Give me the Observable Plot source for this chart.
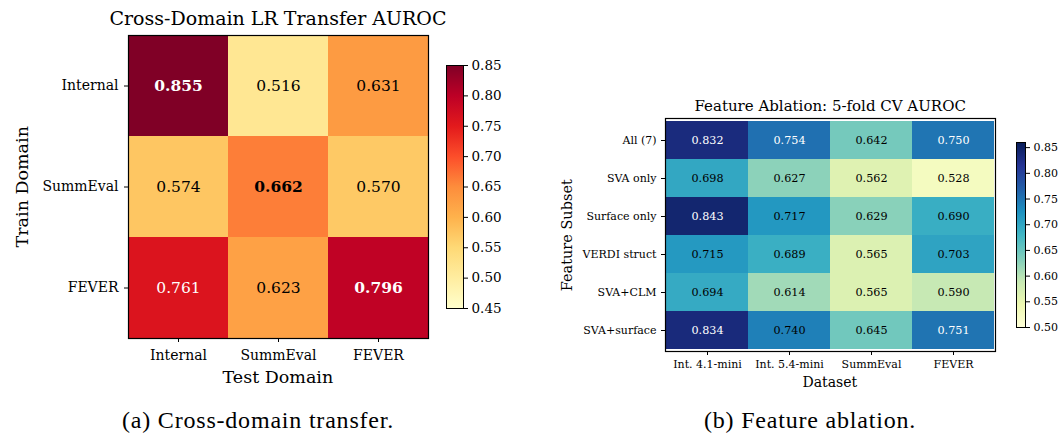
<!DOCTYPE html>
<html>
<head>
<meta charset="utf-8">
<script src="https://cdn.jsdelivr.net/npm/d3@7"></script>
<script src="https://cdn.jsdelivr.net/npm/@observablehq/plot@0.6"></script>
<style>
  html, body { margin: 0; padding: 0; background: #fff; }
  body { width: 1063px; height: 434px; position: relative; overflow: hidden; font-family: "DejaVu Serif", serif; }
  svg, svg text { font-family: "DejaVu Serif", serif !important; }
  .t { position: absolute; white-space: nowrap; color: #000; line-height: 1; font-family: "DejaVu Serif", serif; }
  .t.cap { font-family: "Liberation Serif", serif; font-size: 24px; letter-spacing: 0.8px; }
</style>
</head>
<body>
<script>
// ---------- Data ----------
const trainDomains = ["Internal", "SummEval", "FEVER"];
const testDomains = ["Internal", "SummEval", "FEVER"];
const transferInternal = [0.855, 0.516, 0.631];
const transferSummEval = [0.574, 0.662, 0.570];
const transferFEVER = [0.761, 0.623, 0.796];
const transferRows = [transferInternal, transferSummEval, transferFEVER];
const transferTicks = [0.45, 0.50, 0.55, 0.60, 0.65, 0.70, 0.75, 0.80, 0.85];

const featureSubsets = ["All (7)", "SVA only", "Surface only", "VERDI struct", "SVA+CLM", "SVA+surface"];
const datasets = ["Int. 4.1-mini", "Int. 5.4-mini", "SummEval", "FEVER"];
const ablAll = [0.832, 0.754, 0.642, 0.750];
const ablSVA = [0.698, 0.627, 0.562, 0.528];
const ablSurface = [0.843, 0.717, 0.629, 0.690];
const ablVERDI = [0.715, 0.689, 0.565, 0.703];
const ablSVACLM = [0.694, 0.614, 0.565, 0.590];
const ablSVASurface = [0.834, 0.740, 0.645, 0.751];
const ablationRows = [ablAll, ablSVA, ablSurface, ablVERDI, ablSVACLM, ablSVASurface];
const ablationTicks = [0.50, 0.55, 0.60, 0.65, 0.70, 0.75, 0.80, 0.85];

// colormaps (matplotlib / ColorBrewer)
const ylOrRd = ["#ffffcc", "#ffeda0", "#fed976", "#feb24c", "#fd8d3c", "#fc4e2a", "#e31a1c", "#bd0026", "#800026"];
const ylGnBu = ["#ffffd9", "#edf8b1", "#c7e9b4", "#7fcdbb", "#41b6c4", "#1d91c0", "#225ea8", "#253494", "#081d58"];

const transferDomain = [0.45, 0.85];
const ablationDomain = [0.50, 0.86];

// ---------- helpers ----------
function place(el, x, y) {
  el.style.position = "absolute";
  el.style.left = x + "px";
  el.style.top = y + "px";
  document.body.appendChild(el);
}
function label(text, cx, cy, size, opts = {}) {
  const d = document.createElement("div");
  d.className = "t" + (opts.cls ? " " + opts.cls : "");
  d.textContent = text;
  if (size) d.style.fontSize = size + "px";
  document.body.appendChild(d);
  const w = d.offsetWidth, h = d.offsetHeight;
  d.style.left = (cx - w / 2) + "px";
  d.style.top = (cy - h / 2) + "px";
  if (opts.rotate) d.style.transform = "rotate(-90deg)";
  return d;
}

function heatmap({rows, cols, values, domain, colors, width, height, margins, fontSize, valueSize, whiteAbove, boldFn, xPad, yPad}) {
  const data = [];
  rows.forEach((r, i) => cols.forEach((c, j) => data.push({row: r, col: c, value: values[i][j]})));
  const interp = d3.piecewise(d3.interpolateRgb, colors);
  const color = d3.scaleLinear().domain(domain).range([0, 1]).clamp(true);
  const fillOf = d => interp(color(d.value));
  const txt = (filterFn, weight, fill) => Plot.text(data.filter(filterFn), {
    x: "col", y: "row", text: d => d.value.toFixed(3), fill, fontWeight: weight, fontSize: valueSize
  });
  const isWhite = d => d.value > whiteAbove;
  return Plot.plot({
    width, height,
    marginLeft: margins[0], marginRight: margins[1], marginTop: margins[2], marginBottom: margins[3],
    style: {fontFamily: "DejaVu Serif", fontSize: fontSize + "px", color: "#000", background: "white", overflow: "visible"},
    x: {domain: cols, padding: 0, label: null, tickSize: 4, tickPadding: xPad},
    y: {domain: rows, padding: 0, label: null, tickSize: 4, tickPadding: yPad},
    marks: [
      Plot.cell(data, {x: "col", y: "row", fill: fillOf}),
      txt(d => !boldFn(d) && !isWhite(d), "normal", "black"),
      txt(d => !boldFn(d) && isWhite(d), "normal", "white"),
      txt(d => boldFn(d) && !isWhite(d), "bold", "black"),
      txt(d => boldFn(d) && isWhite(d), "bold", "white"),
      Plot.frame({stroke: "black", strokeWidth: 1.2})
    ]
  });
}

function colorbar({id, domain, colors, ticks, width, height, margins, fontSize}) {
  const svg = Plot.plot({
    width, height,
    marginLeft: margins[0], marginRight: margins[1], marginTop: margins[2], marginBottom: margins[3],
    style: {fontFamily: "DejaVu Serif", fontSize: fontSize + "px", color: "#000", background: "transparent", overflow: "visible"},
    x: {axis: null, domain: [0, 1]},
    y: {domain, label: null, axis: "right", ticks, tickFormat: d3.format(".2f"), tickSize: 4, tickPadding: 4},
    marks: [
      Plot.frame({fill: `url(#${id})`, stroke: "black", strokeWidth: 1})
    ]
  });
  const ns = "http://www.w3.org/2000/svg";
  const defs = document.createElementNS(ns, "defs");
  const grad = document.createElementNS(ns, "linearGradient");
  grad.setAttribute("id", id);
  grad.setAttribute("x1", "0"); grad.setAttribute("y1", "1");
  grad.setAttribute("x2", "0"); grad.setAttribute("y2", "0");
  colors.forEach((c, i) => {
    const s = document.createElementNS(ns, "stop");
    s.setAttribute("offset", (i / (colors.length - 1)));
    s.setAttribute("stop-color", c);
    grad.appendChild(s);
  });
  defs.appendChild(grad);
  svg.insertBefore(defs, svg.firstChild);
  svg.querySelectorAll("[aria-label=frame], [aria-label=frame] rect").forEach(r => r.setAttribute("fill", `url(#${id})`));
  return svg;
}

// ---------- Panel (a) ----------
const hmA = heatmap({
  rows: trainDomains, cols: testDomains, values: transferRows, domain: transferDomain, colors: ylOrRd,
  width: 440, height: 400, margins: [128, 12, 35, 62], fontSize: 14, valueSize: 15.5,
  whiteAbove: 0.7, boldFn: d => d.row === d.col, xPad: 8, yPad: 6
});
place(hmA, 0, 0);
const cbA = colorbar({id: "gradA", domain: transferDomain, colors: ylOrRd, ticks: transferTicks,
  width: 90, height: 400, margins: [6, 67, 65, 92], fontSize: 13.5});
place(cbA, 440, 0);

label("Cross-Domain LR Transfer AUROC", 278, 18, 19);
label("Test Domain", 278, 378, 17.5);
label("Train Domain", 22, 187, 17.5, {rotate: true});
label("(a) Cross-domain transfer.", 258, 420, null, {cls: "cap"});

// ---------- Panel (b) ----------
const hmB = heatmap({
  rows: featureSubsets, cols: datasets, values: ablationRows, domain: ablationDomain, colors: ylGnBu,
  width: 470, height: 400, margins: [125, 15, 118, 49], fontSize: 11, valueSize: 11.2,
  whiteAbove: 0.745, boldFn: d => false, xPad: 5, yPad: 5
});
place(hmB, 540, 0);
const cbB = colorbar({id: "gradB", domain: ablationDomain, colors: ylGnBu, ticks: ablationTicks,
  width: 53, height: 400, margins: [6, 38, 142, 73], fontSize: 11});
place(cbB, 1010, 0);

label("Feature Ablation: 5-fold CV AUROC", 830, 106, 15);
label("Dataset", 830, 382, 14);
label("Feature Subset", 567, 235, 14.5, {rotate: true});
label("(b) Feature ablation.", 810, 420, null, {cls: "cap"});
</script>
</body>
</html>
